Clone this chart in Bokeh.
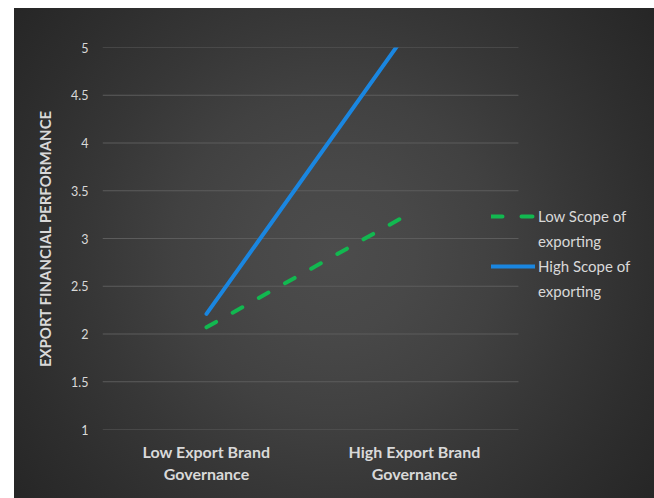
from bokeh.plotting import figure
from bokeh.models import Legend, LegendItem, Range1d, FixedTicker
from bokeh.embed import file_html
from bokeh.resources import INLINE

# ---- data ----
categories = ["Low Export Brand\nGovernance", "High Export Brand\nGovernance"]
low_scope = [2.07, 3.29]
high_scope = [2.21, 5.27]
y_ticks = [1, 1.5, 2, 2.5, 3, 3.5, 4, 4.5, 5]
y_tick_labels = ["1", "1.5", "2", "2.5", "3", "3.5", "4", "4.5", "5"]
series_names = [["Low Scope of", "exporting"], ["High Scope of", "exporting"]]

FONT = "Lato"
TXT = "#d9d9d9"

# category slots: each category occupies one unit, drawn at its centre
x_pos = [i + 0.5 for i in range(len(categories))]
n_cat = len(categories)

p = figure(
    width=640, height=490,
    x_range=Range1d(0, 2.654),
    y_range=Range1d(1, 5),
    output_backend="svg", toolbar_location=None,
    min_border_left=88, min_border_right=0,
    min_border_top=39, min_border_bottom=69,
)
p.margin = (8, 0, 0, 14)
p.styles = {
    "background": "radial-gradient(circle farthest-corner at 50% 50%, #4c4c4c 0%, #484848 20%, #414141 40%, #373737 60%, #2e2e2e 80%, #262626 100%)"
}
p.background_fill_alpha = 0
p.border_fill_alpha = 0
p.outline_line_color = None

# horizontal gridlines spanning the category area only
p.xgrid.grid_line_color = None
p.ygrid.grid_line_color = None
p.segment(x0=[0] * len(y_ticks), x1=[n_cat] * len(y_ticks), y0=y_ticks, y1=y_ticks,
          line_color="#5c5c5c", line_width=1)

l1 = p.line(x_pos, low_scope, line_color="#12b850", line_width=4,
            line_dash="11 19", line_cap="round")
l2 = p.line(x_pos, high_scope, line_color="#1a86e0", line_width=4,
            line_cap="round")
# empty, invisible renderer used only for the second line of each legend label
blank = p.line([], [], line_alpha=0)

# axes
p.xaxis.ticker = FixedTicker(ticks=x_pos)
p.xaxis.major_label_overrides = dict(zip(x_pos, categories))
p.yaxis.ticker = FixedTicker(ticks=y_ticks)
p.yaxis.major_label_overrides = dict(zip(y_ticks, y_tick_labels))
for ax in (p.xaxis[0], p.yaxis[0]):
    ax.axis_line_color = None
    ax.major_tick_line_color = None
    ax.minor_tick_line_color = None
    ax.major_tick_out = 0
    ax.major_tick_in = 0
    ax.major_label_text_color = TXT
    ax.major_label_text_font = FONT
p.yaxis.major_label_text_font_size = "12.5px"
p.yaxis.major_label_standoff = 14
p.xaxis.major_label_text_font_size = "16px"
p.xaxis.major_label_text_font_style = "bold"
p.xaxis.major_label_standoff = 12
p.yaxis.axis_label = "EXPORT FINANCIAL PERFORMANCE"
p.yaxis.axis_label_text_font = FONT
p.yaxis.axis_label_text_font_size = "15px"
p.yaxis.axis_label_text_font_style = "bold"
p.yaxis.axis_label_text_color = TXT
p.yaxis.axis_label_standoff = 14

legend = Legend(
    items=[LegendItem(label=series_names[0][0], renderers=[l1]),
           LegendItem(label=series_names[0][1], renderers=[blank]),
           LegendItem(label=series_names[1][0], renderers=[l2]),
           LegendItem(label=series_names[1][1], renderers=[blank])],
    location=(389, 128),
    background_fill_alpha=0, border_line_color=None,
    label_text_color=TXT, label_text_font=FONT, label_text_font_size="15px",
    glyph_width=44, glyph_height=20, label_height=20, label_standoff=3,
    padding=0, margin=0, spacing=5,
)
p.add_layout(legend)

open("out.html", "w").write(file_html(p, INLINE))
